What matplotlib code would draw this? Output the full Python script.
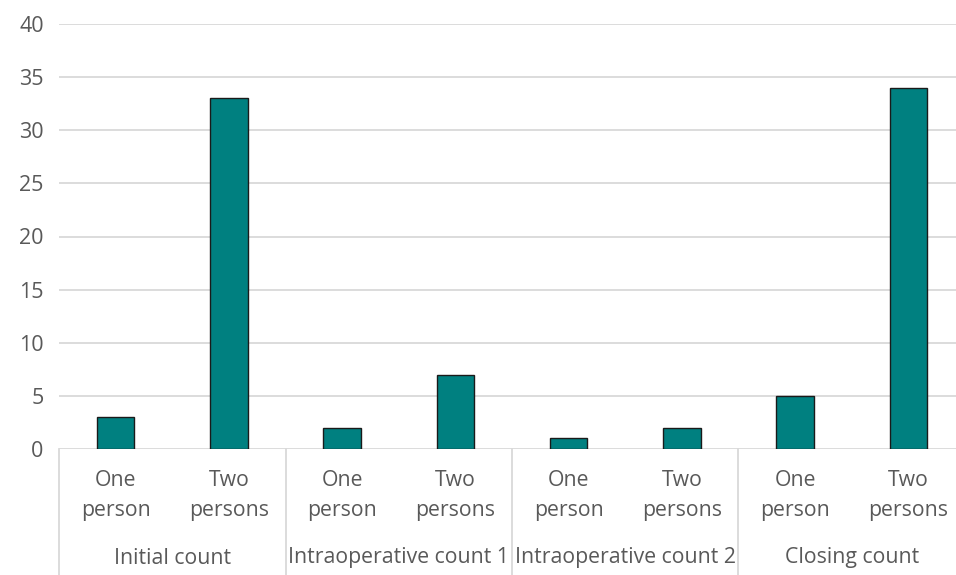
import matplotlib.pyplot as plt
import matplotlib.transforms as mtransforms

# data
groups = ['Initial count', 'Intraoperative count 1', 'Intraoperative count 2', 'Closing count']
subcats = ['One\nperson', 'Two\npersons']
values = [3, 33, 2, 7, 1, 2, 5, 34]

plt.rcParams['font.family'] = ['Open Sans', 'DejaVu Sans']
GRAY_TXT = '#595959'
GRID = '#d9d9d9'
BAR = '#008080'

W, H = 956, 575
fig = plt.figure(figsize=(W / 100, H / 100), dpi=100)
x0, x1, y0, y1 = 59, 965, 449, 24
ax = fig.add_axes([x0 / W, (H - y0) / H, (x1 - x0) / W, (y0 - y1) / H])

xs = list(range(len(values)))
ax.bar(xs, values, width=0.33, color=BAR, edgecolor='#1a1a1a', linewidth=1.0, zorder=3)

ax.set_xlim(-0.5, len(values) - 0.5)
ax.set_ylim(0, 40)
ax.set_yticks(range(0, 41, 5))
ax.tick_params(axis='y', length=0, pad=11, labelsize=15.5, labelcolor=GRAY_TXT)
ax.set_xticks([])
ax.yaxis.grid(True, color=GRID, linewidth=1.3, zorder=0)
for s in ax.spines.values():
    s.set_visible(False)

trans = mtransforms.blended_transform_factory(ax.transData, ax.transAxes)
ah = y0 - y1

# category labels
for i, x in enumerate(xs):
    ax.text(x, -46.5 / ah, subcats[i % 2], transform=trans, ha='center', va='center',
            fontsize=15.3, color=GRAY_TXT, linespacing=1.62)

# group labels
for g, name in enumerate(groups):
    ax.text(2 * g + 0.5, -109 / ah, name, transform=trans, ha='center', va='center',
            fontsize=15.3, color=GRAY_TXT)

# separators
for b in [-0.5, 1.5, 3.5, 5.5, 7.5]:
    ax.plot([b, b], [0, -130 / ah], transform=trans, color=GRID, linewidth=1.3, clip_on=False)

fig.savefig('out.png', dpi=100)
